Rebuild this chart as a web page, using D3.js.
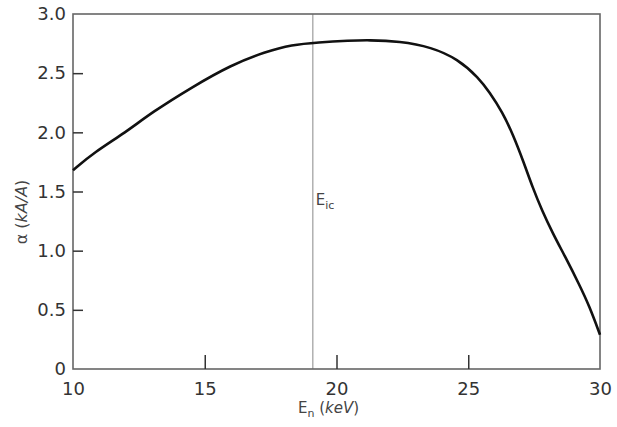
<!DOCTYPE html>
<html>
<head>
<meta charset="utf-8">
<script src="https://cdn.jsdelivr.net/npm/d3@7"></script>
<style>
  body { margin: 0; background: #fff; }
  svg { display: block; }
</style>
</head>
<body>
<div id="chart"></div>
<script>
// curve values
var energy = [10, 10.8, 12, 13, 14.5, 16, 17.3, 18.3, 19.3, 20.5, 21.2, 22.4, 23.6, 24.6, 25.4, 25.8, 26.3, 26.7, 27.1, 27.45, 27.8, 28.2, 28.7, 29.2, 29.6, 30];
var alpha  = [1.68, 1.83, 2.0, 2.17, 2.38, 2.57, 2.68, 2.74, 2.76, 2.775, 2.78, 2.77, 2.72, 2.62, 2.46, 2.34, 2.17, 1.98, 1.75, 1.53, 1.34, 1.15, 0.94, 0.72, 0.53, 0.29];
var xTicks = [10, 15, 20, 25, 30];
var yTicks = [0, 0.5, 1.0, 1.5, 2.0, 2.5, 3.0];
var yTickLabels = ["0", "0.5", "1.0", "1.5", "2.0", "2.5", "3.0"];
var eIc = 19.1;

var W = 617, H = 427;
var margin = {top: 14, right: 17, bottom: 58, left: 73},
    width = W - margin.left - margin.right,
    height = H - margin.top - margin.bottom;

var svg = d3.select('#chart')
  .append('svg')
    .attr('width', W)
    .attr('height', H)
  .append('g')
    .attr('transform', 'translate(' + margin.left + ',' + margin.top + ')');

var x = d3.scaleLinear().domain([10, 30]).range([0, width]);
var y = d3.scaleLinear().domain([0, 3]).range([height, 0]);

var frameColor = "#666";
var font = "DejaVu Sans, Verdana, sans-serif";

// vertical E_ic line
svg.append("line")
  .attr("x1", x(eIc)).attr("x2", x(eIc))
  .attr("y1", 0).attr("y2", height)
  .attr("stroke", "#b0b0b0")
  .attr("stroke-width", 1.5);

svg.append("text")
  .attr("x", x(eIc) + 3)
  .attr("y", 191)
  .style("font-family", font)
  .style("font-size", "15px")
  .attr("fill", "#444")
  .text("E")
  .append("tspan")
    .attr("dy", 4)
    .style("font-size", "11px")
    .text("ic");

// frame
svg.append("rect")
  .attr("x", 0).attr("y", 0)
  .attr("width", width).attr("height", height)
  .attr("fill", "none")
  .attr("stroke", frameColor)
  .attr("stroke-width", 1.6);

// x axis: ticks pointing up into the plot
var xAxis = svg.append("g")
  .attr("transform", "translate(0," + height + ")")
  .call(d3.axisBottom(x).tickValues(xTicks).tickSizeInner(-14).tickSizeOuter(0).tickPadding(10));
xAxis.select(".domain").remove();
xAxis.selectAll("line")
  .attr("stroke", "#333")
  .attr("stroke-width", 1.5)
  .filter(function(d) { return d === 10 || d === 30; }).remove();
xAxis.selectAll("text")
  .attr("y", 13)
  .attr("dy", "0.71em")
  .style("font-family", font)
  .style("font-size", "18px")
  .attr("fill", "#333");

// y axis: ticks pointing right
var yAxis = svg.append("g")
  .call(d3.axisLeft(y).tickValues(yTicks)
    .tickFormat(function(d, i) { return yTickLabels[i]; })
    .tickSizeInner(-10).tickSizeOuter(0).tickPadding(7));
yAxis.select(".domain").remove();
yAxis.selectAll("line")
  .attr("stroke", "#333")
  .attr("stroke-width", 1.5)
  .filter(function(d) { return d === 0 || d === 3; }).remove();
yAxis.selectAll("text")
  .style("font-family", font)
  .style("font-size", "18px")
  .attr("fill", "#333");

// curve
var pts = energy.map(function(e, i) { return [e, alpha[i]]; });
svg.append("path")
  .datum(pts)
  .attr("fill", "none")
  .attr("stroke", "#111")
  .attr("stroke-width", 2.6)
  .attr("d", d3.line()
    .x(function(d) { return x(d[0]); })
    .y(function(d) { return y(d[1]); })
    .curve(d3.curveBasis));

// x label
var xl = svg.append("text")
  .attr("x", width / 2 - 8)
  .attr("y", height + 44)
  .attr("text-anchor", "middle")
  .style("font-family", font)
  .style("font-size", "15px")
  .attr("fill", "#444");
xl.append("tspan").text("E");
xl.append("tspan").attr("dy", 4).style("font-size", "11px").text("n");
xl.append("tspan").attr("dy", -4).text(" (");
xl.append("tspan").style("font-style", "italic").text("keV");
xl.append("tspan").text(")");

// y label
var yl = svg.append("text")
  .attr("transform", "translate(" + (-margin.left + 27) + "," + 198 + ") rotate(-90)")
  .attr("text-anchor", "middle")
  .style("font-family", font)
  .style("font-size", "16px")
  .attr("fill", "#444");
yl.append("tspan").text("α (");
yl.append("tspan").style("font-style", "italic").text("kA/A");
yl.append("tspan").text(")");
</script>
</body>
</html>
